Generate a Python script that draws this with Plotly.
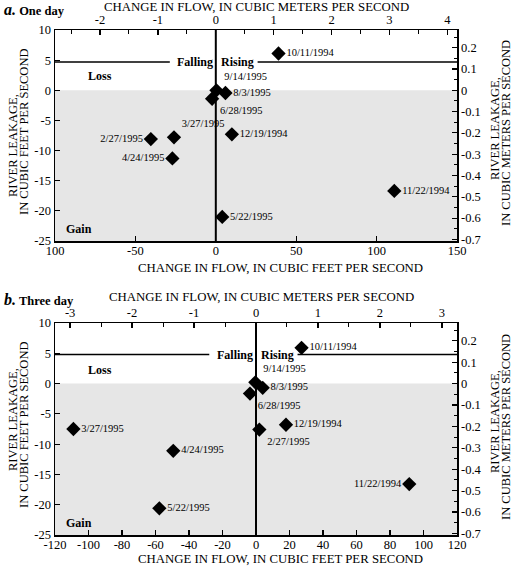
import plotly.graph_objects as go

# ---------------- data ----------------
one_dates = ["10/11/1994", "9/14/1995", "8/3/1995", "6/28/1995", "3/27/1995",
             "2/27/1995", "4/24/1995", "12/19/1994", "5/22/1995", "11/22/1994"]
one_flow = [39, 0.4, 6, -2.3, -26, -40.4, -27, 10, 4, 111]
one_leak = [6.1, 0.0, -0.45, -1.4, -7.8, -8.1, -11.3, -7.3, -21, -16.7]
one_pos = ["middle right", "top right", "middle right", "bottom right", "top right",
           "middle left", "middle left", "middle right", "middle right", "middle right"]

three_dates = ["3/27/1995", "4/24/1995", "5/22/1995", "9/14/1995", "8/3/1995",
               "6/28/1995", "2/27/1995", "12/19/1994", "10/11/1994", "11/22/1994"]
three_flow = [-109, -49.4, -57.7, -0.4, 4, -3.6, 2, 17.9, 27.2, 91.5]
three_leak = [-7.5, -11.1, -20.6, 0.2, -0.7, -1.65, -7.6, -6.8, 5.9, -16.6]
three_pos = ["middle right", "middle right", "middle right", "top right", "middle right",
             "bottom right", "bottom right", "middle right", "middle right", "middle left"]

one_xrange = [-100, 150]
three_xrange = [-120, 120]
y_range = [-25, 10]
one_cfs_per_cms = 36.0
three_cfs_per_cms = 37.0
y_cms_factor = 0.0283

one_bottom_ticks = [-100, -50, 0, 50, 100, 150]
one_bottom_labels = ["100", "-50", "0", "50", "100", "150"]
three_bottom_ticks = [-120, -100, -80, -60, -40, -20, 0, 20, 40, 60, 80, 100, 120]
one_top_ticks = [-2, -1, 0, 1, 2, 3, 4]
three_top_ticks = [-3, -2, -1, 0, 1, 2, 3]
left_ticks = [-25, -20, -15, -10, -5, 0, 5, 10]
right_ticks = [0.2, 0.1, 0, -0.1, -0.2, -0.3, -0.4, -0.5, -0.6, -0.7]

threshold_one = 4.7
gap_one = [-28.6, 26]
threshold_three = 4.8
gap_three = [-27.9, 24.8]

FONT = "Liberation Serif, Times New Roman, serif"
BLACK = "#000000"
W, H = 514, 568


def lbl(v):
    return ("%g" % v).replace("\u2212", "-")


def halves(ticks):
    return [t + 0.5 for t in ticks[:-1]] + [ticks[0] - 0.5, ticks[-1] + 0.5]


def fives(ticks):
    return [round(t + 0.05, 3) for t in ticks]


fig = go.Figure()

panels = [
    dict(xa="x", ya="y", xa2="x2", ya2="y2", flow=one_flow, leak=one_leak,
         dates=one_dates, pos=one_pos, xr=one_xrange,
         thr=threshold_one, gap=gap_one, ydom=[1 - 241 / H, 1 - 30 / H]),
    dict(xa="x3", ya="y3", xa2="x4", ya2="y4", flow=three_flow, leak=three_leak,
         dates=three_dates, pos=three_pos, xr=three_xrange,
         thr=threshold_three, gap=gap_three, ydom=[1 - 535 / H, 1 - 323 / H]),
]

xdom = [55 / W, 457 / W]
shapes = []
annotations = []
bfont = dict(family=FONT, size=12, color=BLACK)

for p in panels:
    fig.add_trace(go.Scatter(
        x=p["flow"], y=p["leak"], mode="markers+text", text=p["dates"],
        textposition=p["pos"], xaxis=p["xa"], yaxis=p["ya"],
        marker=dict(symbol="diamond", size=11, color=BLACK),
        textfont=dict(family=FONT, size=10.5, color=BLACK),
        showlegend=False, cliponaxis=False, hoverinfo="skip"))
    fig.add_trace(go.Scatter(x=[], y=[], xaxis=p["xa2"], yaxis=p["ya2"],
                             showlegend=False))
    xr = p["xr"]
    shapes.append(dict(type="rect", xref=p["xa"] + " domain", yref=p["ya"],
                       x0=0, x1=1, y0=y_range[0], y1=0,
                       fillcolor="#e6e6e6", line=dict(width=0), layer="below"))
    shapes.append(dict(type="line", xref=p["xa"], yref=p["ya"] + " domain",
                       x0=0, x1=0, y0=0, y1=1, line=dict(color=BLACK, width=2)))
    shapes.append(dict(type="line", xref=p["xa"], yref=p["ya"],
                       x0=xr[0], x1=p["gap"][0], y0=p["thr"], y1=p["thr"],
                       line=dict(color=BLACK, width=1.5)))
    shapes.append(dict(type="line", xref=p["xa"], yref=p["ya"],
                       x0=p["gap"][1], x1=xr[1], y0=p["thr"], y1=p["thr"],
                       line=dict(color=BLACK, width=1.5)))
    annotations += [
        dict(x=0, y=p["thr"], xref=p["xa"], yref=p["ya"], text="<b>Falling</b>",
             xanchor="right", yanchor="middle", xshift=-1, showarrow=False, font=bfont),
        dict(x=0, y=p["thr"], xref=p["xa"], yref=p["ya"], text="<b>Rising</b>",
             xanchor="left", yanchor="middle", xshift=3, showarrow=False, font=bfont),
        dict(x=0.077, y=2.3, xref=p["xa"] + " domain", yref=p["ya"], text="<b>Loss</b>",
             xanchor="left", yanchor="middle", showarrow=False, font=bfont),
        dict(x=0.022, y=-23, xref=p["xa"] + " domain", yref=p["ya"], text="<b>Gain</b>",
             xanchor="left", yanchor="middle", showarrow=False, font=bfont),
    ]


def ann(text, x, y, angle=0, size=12.8):
    annotations.append(dict(text=text, x=x / W, y=1 - y / H, xref="paper", yref="paper",
                            showarrow=False, xanchor="center", yanchor="middle",
                            textangle=angle, font=dict(family=FONT, size=size, color=BLACK)))


# axis titles
ann("CHANGE IN FLOW, IN CUBIC METERS PER SECOND", 256, 7)
ann("CHANGE IN FLOW, IN CUBIC FEET PER SECOND", 280, 268)
ann("CHANGE IN FLOW, IN CUBIC METERS PER SECOND", 261, 297)
ann("CHANGE IN FLOW, IN CUBIC FEET PER SECOND", 280, 559)
ann("RIVER LEAKAGE,", 13, 146, -90, 12.5)
ann("IN CUBIC FEET PER SECOND", 24, 132, -90, 12.5)
ann("RIVER LEAKAGE,", 495, 129, -90, 12.5)
ann("IN CUBIC METERS PER SECOND", 506, 133, -90, 12.5)
ann("RIVER LEAKAGE,", 13, 420, -90, 12.5)
ann("IN CUBIC FEET PER SECOND", 24, 425, -90, 12.5)
ann("RIVER LEAKAGE,", 495, 422, -90, 12.5)
ann("IN CUBIC METERS PER SECOND", 506, 427, -90, 12.5)

annotations.append(dict(x=2 / W, y=1 - 10 / H, xref="paper", yref="paper",
                        text="<b><i><span style='font-size:16px'>a.</span></i> One day</b>",
                        showarrow=False, xanchor="left", yanchor="middle",
                        font=dict(family=FONT, size=12.5, color=BLACK)))
annotations.append(dict(x=2 / W, y=1 - 299 / H, xref="paper", yref="paper",
                        text="<b><i><span style='font-size:16px'>b.</span></i> Three day</b>",
                        showarrow=False, xanchor="left", yanchor="middle",
                        font=dict(family=FONT, size=12.5, color=BLACK)))

axis_common = dict(showline=True, linecolor=BLACK, linewidth=1.5, ticks="inside",
                   ticklen=5, tickcolor=BLACK, tickwidth=1.2, showgrid=False,
                   zeroline=False, automargin=False, tickmode="array",
                   tickfont=dict(family=FONT, size=12.5, color=BLACK))
minor_common = dict(ticks="inside", ticklen=3.5, tickcolor=BLACK, tickwidth=1, showgrid=False)

yr2 = [y_range[0] * y_cms_factor, y_range[1] * y_cms_factor]

layout = dict(
    width=W, height=H, margin=dict(l=0, r=0, t=0, b=0),
    plot_bgcolor="white", paper_bgcolor="white",
    shapes=shapes, annotations=annotations, hovermode=False,
    xaxis=dict(axis_common, domain=xdom, range=one_xrange, anchor="y",
               tickvals=one_bottom_ticks, ticktext=one_bottom_labels,
               ticklabelstandoff=-3),
    xaxis2=dict(axis_common, domain=xdom, overlaying="x", side="top", anchor="y",
                range=[one_xrange[0] / one_cfs_per_cms, one_xrange[1] / one_cfs_per_cms],
                tickvals=one_top_ticks, ticktext=[lbl(v) for v in one_top_ticks],
                minor=dict(minor_common, tickvals=halves(one_top_ticks))),
    yaxis=dict(axis_common, domain=panels[0]["ydom"], range=y_range, anchor="x",
               tickvals=left_ticks, ticktext=[lbl(v) for v in left_ticks]),
    yaxis2=dict(axis_common, domain=panels[0]["ydom"], overlaying="y", side="right",
                anchor="x", range=yr2,
                tickvals=right_ticks, ticktext=[lbl(v) for v in right_ticks],
                minor=dict(minor_common, tickvals=fives(right_ticks))),
    xaxis3=dict(axis_common, domain=xdom, range=three_xrange, anchor="y3",
                tickvals=three_bottom_ticks, ticktext=[lbl(v) for v in three_bottom_ticks],
                ticklabelstandoff=-3),
    xaxis4=dict(axis_common, domain=xdom, overlaying="x3", side="top", anchor="y3",
                range=[three_xrange[0] / three_cfs_per_cms, three_xrange[1] / three_cfs_per_cms],
                tickvals=three_top_ticks, ticktext=[lbl(v) for v in three_top_ticks],
                minor=dict(minor_common, tickvals=halves(three_top_ticks))),
    yaxis3=dict(axis_common, domain=panels[1]["ydom"], range=y_range, anchor="x3",
                tickvals=left_ticks, ticktext=[lbl(v) for v in left_ticks]),
    yaxis4=dict(axis_common, domain=panels[1]["ydom"], overlaying="y3", side="right",
                anchor="x3", range=yr2,
                tickvals=right_ticks, ticktext=[lbl(v) for v in right_ticks],
                minor=dict(minor_common, tickvals=fives(right_ticks))),
)
fig.update_layout(**layout)

fig.write_html("out.html", config={"displayModeBar": False, "staticPlot": True},
               post_script="document.body.style.margin='0px';document.body.style.overflow='hidden';")
